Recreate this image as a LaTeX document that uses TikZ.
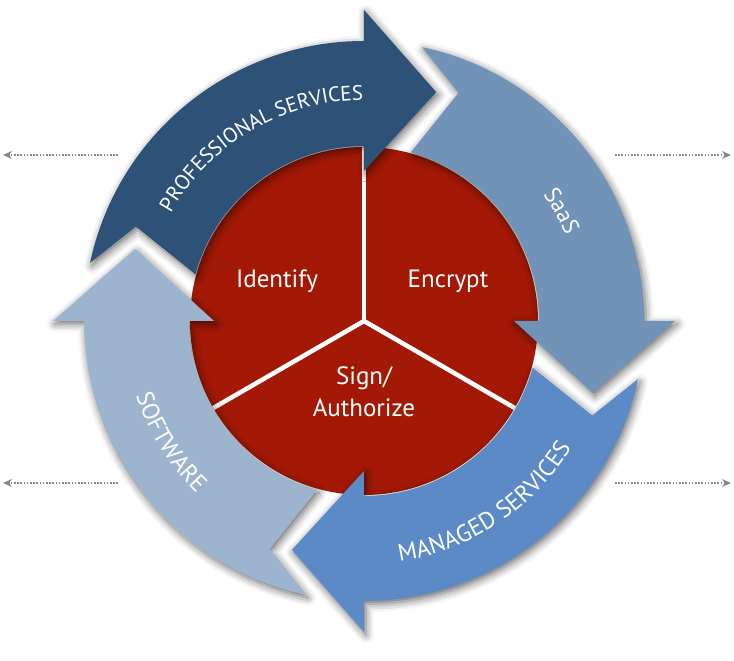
\documentclass[tikz,border=0pt]{standalone}
\usepackage{fontspec}
\setmainfont{PT Sans}
\usetikzlibrary{positioning,arrows.meta,decorations.text,shadows.blur}

\definecolor{coreRed}{RGB}{164,25,5}
\definecolor{proBlue}{RGB}{45,81,119}
\definecolor{saasBlue}{RGB}{112,147,183}
\definecolor{manBlue}{RGB}{91,138,198}
\definecolor{softBlue}{RGB}{157,180,206}
\definecolor{hintGrey}{RGB}{135,135,140}

\tikzset{core node/.style={circle,fill=coreRed,minimum size=348pt,inner sep=0pt}}
\tikzset{core label/.style={text=white,font=\fontsize{25}{32}\selectfont,anchor=base,align=center}}
\tikzset{divider/.style={white,line width=4.5pt}}
\tikzset{band arrow/.style={blur shadow={shadow xshift=2pt,shadow yshift=-3pt,shadow blur radius=8pt,shadow opacity=60}}}
\tikzset{hint arrow/.style={hintGrey,line width=1.3pt,dash pattern=on 1.6pt off 1.6pt,-{Stealth[length=9pt,width=8pt]}}}

\begin{document}
\begin{tikzpicture}[x=1pt,y=1pt]
\useasboundingbox (-364,-340) rectangle (370,321);

% red core
\node[core node] (core) at (0,0) {};
\draw[divider] (core.center) -- (core.90);
\draw[divider] (core.center) -- (core.210);
\draw[divider] (core.center) -- (core.-30);

% curved arrows of the cycle
\foreach \hd/\col in {180/softBlue,270/manBlue,0/saasBlue,90/proBlue}{
    \pgfmathsetmacro{\tailang}{\hd+90}
    \fill[band arrow,\col] ({\tailang-12}:280)
        arc[start angle=\tailang-12,end angle=\hd,radius=280]
        -- (\hd:311) -- ({\hd-17.5}:240) -- (\hd:150) -- (\hd:175)
        arc[start angle=\hd,end angle=\tailang-15.5,radius=175]
        -- ({\tailang-22.5}:247) -- cycle;
}

% labels on the arrows
\path[decorate,decoration={text along path,text align=center,text color=white,
    text={|\fontsize{21}{21}\selectfont|PROFESSIONAL SERVICES}}]
    (165:221) arc[start angle=165,end angle=76,radius=221];
\path[decorate,decoration={text along path,text align=center,text color=white,
    text={|\fontsize{23}{23}\selectfont|SaaS}}]
    (54:219) arc[start angle=54,end angle=4,radius=219];
\path[decorate,decoration={text along path,text align=center,text color=white,
    text={|\fontsize{24}{24}\selectfont|MANAGED SERVICES}}]
    (-100:243) arc[start angle=-100,end angle=-13,radius=243];
\path[decorate,decoration={text along path,text align=center,text color=white,
    text={|\fontsize{24}{24}\selectfont|SOFTWARE}}]
    (187:240) arc[start angle=187,end angle=237,radius=240];

% texts in the core
\node[core label] (identify) at (-87,33.5) {Identify};
\node[core label] (encrypt) at (84,33) {Encrypt};
\node[core label] (sign) at (0,-96) {Sign/\\Authorize};

% side hints
\coordinate (hintLA) at (-246,166);
\coordinate (hintLB) at (-361,166);
\coordinate (hintLC) at (-246,-162);
\coordinate (hintLD) at (-361,-162);
\coordinate (hintRA) at (251,166);
\coordinate (hintRB) at (367,166);
\coordinate (hintRC) at (251,-162);
\coordinate (hintRD) at (367,-162);
\draw[hint arrow] (hintLA) -- (hintLB);
\draw[hint arrow] (hintLC) -- (hintLD);
\draw[hint arrow] (hintRA) -- (hintRB);
\draw[hint arrow] (hintRC) -- (hintRD);
\end{tikzpicture}
\end{document}
